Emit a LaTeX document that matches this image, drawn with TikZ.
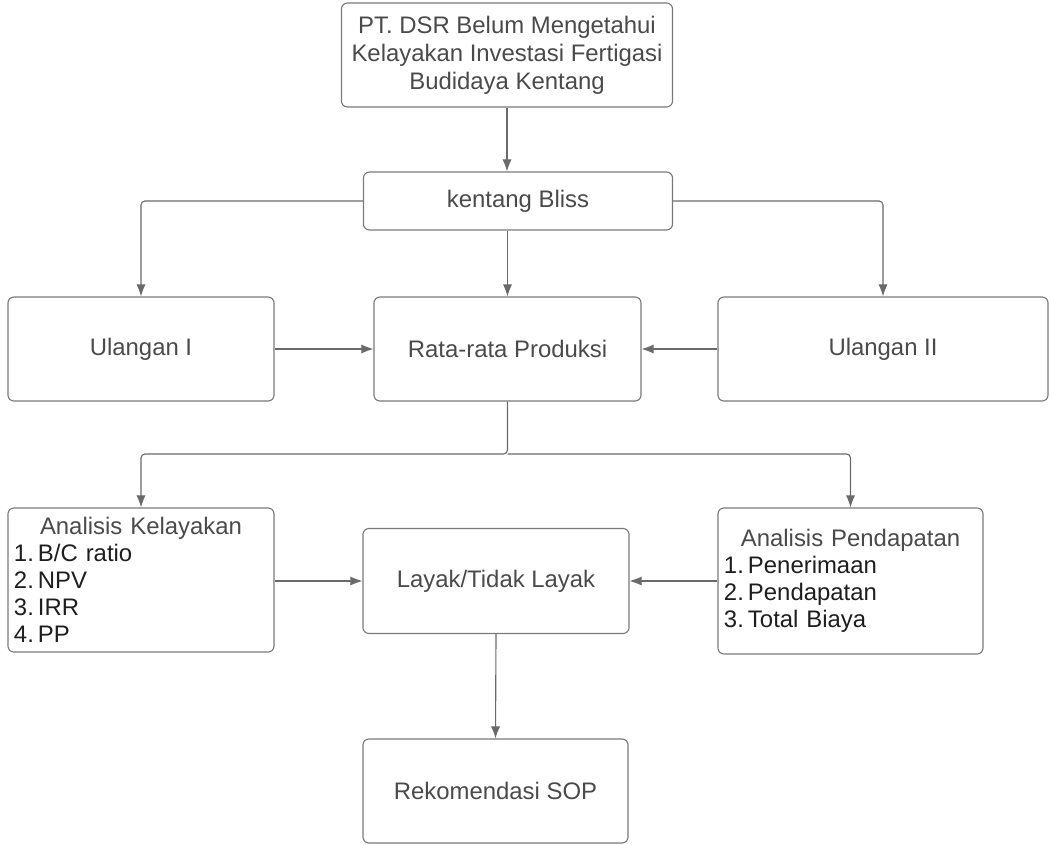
\documentclass[tikz,border=0pt]{standalone}
\usepackage{fontspec}
\setmainfont{Liberation Sans}
\usetikzlibrary{arrows.meta}

\definecolor{boxline}{HTML}{7A7A7A}
\definecolor{boxtext}{HTML}{4A4A4A}
\definecolor{itemtext}{HTML}{1E1E1E}
\definecolor{arrowline}{HTML}{6A6A6A}

\newcommand{\listitem}[2]{\makebox[0.6cm][l]{\color{itemtext}#1}{\color{itemtext}#2}}

\begin{document}
\begin{tikzpicture}[x=0.025cm, y=-0.025cm, >={Latex[length=3mm,width=2.3mm]},
		box/.style={draw=boxline, line width=0.8pt, rounded corners=0.15cm, fill=white,
				text=boxtext, align=center, inner sep=0.15cm,
				font=\fontsize{17}{19.8}\selectfont},
		listbox/.style={box, align=left, font=\fontsize{17}{19.2}\selectfont},
		flow/.style={->, draw=arrowline, line width=0.8pt, rounded corners=0.1cm}]
		\useasboundingbox (0,0) rectangle (1050,845);

		% boxes
		\node[box, minimum width=8.275cm, minimum height=2.6cm] (masalah) at (507,55)
			{PT. DSR Belum Mengetahui\\Kelayakan Investasi Fertigasi\\Budidaya Kentang};
		\node[box, minimum width=7.725cm, minimum height=1.45cm] (kentang) at (518,201) {kentang Bliss};
		\node[box, minimum width=6.65cm, minimum height=2.6cm] (ulang1) at (141,349) {Ulangan I};
		\node[box, minimum width=6.675cm, minimum height=2.6cm] (rata) at (507.5,349) {Rata-rata Produksi};
		\node[box, minimum width=8.25cm, minimum height=2.6cm] (ulang2) at (883,349) {Ulangan II};
		\node[listbox, text width=6.35cm, minimum height=3.6cm] (kelayakan) at (141,580)
			{\makebox[\hsize][c]{Analisis Kelayakan}\\
			\listitem{1.}{B/C ratio}\\
			\listitem{2.}{NPV}\\
			\listitem{3.}{IRR}\\
			\listitem{4.}{PP}};
		\node[box, minimum width=6.65cm, minimum height=2.625cm] (layak) at (496,581) {Layak/Tidak Layak};
		\node[listbox, text width=6.325cm, minimum height=3.65cm] (pendapatan) at (850.5,581)
			{\makebox[\hsize][c]{Analisis Pendapatan}\\
			\listitem{1.}{Penerimaan}\\
			\listitem{2.}{Pendapatan}\\
			\listitem{3.}{Total Biaya}};
		\node[box, minimum width=6.625cm, minimum height=2.6cm] (sop) at (495.5,791) {Rekomendasi SOP};

		% connectors
		\draw[flow] (masalah.south) -- (masalah.south |- kentang.north);
		\draw[flow] (kentang.west) -| (ulang1.north);
		\draw[flow] (kentang.east) -| (ulang2.north);
		\draw[flow] (kentang.south -| rata.north) -- (rata.north);
		\draw[flow] (ulang1.east) -- (rata.west);
		\draw[flow] (ulang2.west) -- (rata.east);
		\coordinate (cabang) at (507.5,454);
		\draw[flow] (rata.south) -- (cabang) -| (kelayakan.north);
		\draw[flow] (cabang) -| (pendapatan.north);
		\draw[flow] (kelayakan.east |- layak.west) -- (layak.west);
		\draw[flow] (pendapatan.west |- layak.east) -- (layak.east);
		\draw[flow] (layak.south) -- (sop.north);
	\end{tikzpicture}
\end{document}
